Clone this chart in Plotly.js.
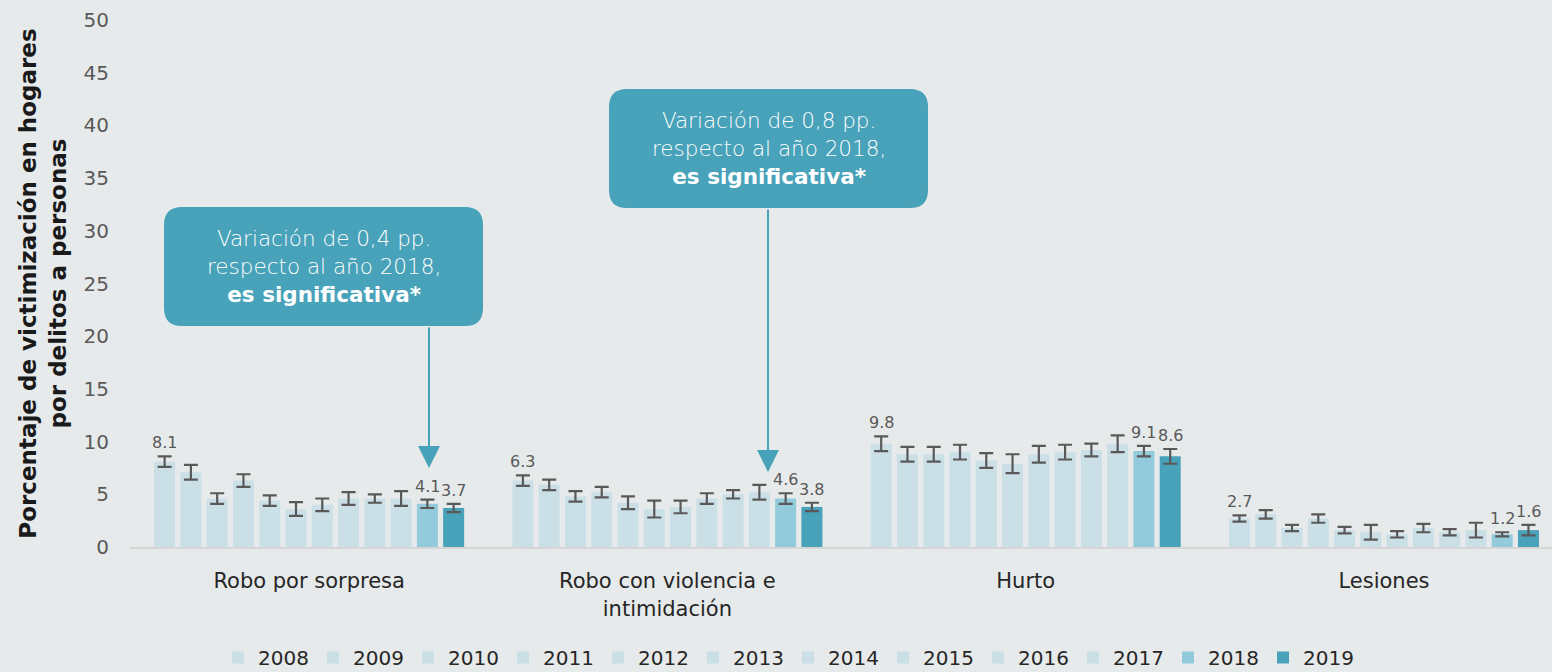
<!DOCTYPE html>
<html>
<head>
<meta charset="utf-8">
<script src="https://cdn.plot.ly/plotly-3.0.1.min.js"></script>
<style>html,body{margin:0;padding:0;background:#e7eaeb;}#chart{width:1552px;height:672px;}</style>
</head>
<body>
<div id="chart"></div>
<script>
const categories = ["Robo por sorpresa", "Robo con violencia e<br>intimidación", "Hurto", "Lesiones"];
const years = ["2008","2009","2010","2011","2012","2013","2014","2015","2016","2017","2018","2019"];
// values per year: [Robo por sorpresa, Robo con violencia, Hurto, Lesiones]
const v2008 = [8.1, 6.3, 9.8, 2.7];
const v2009 = [7.1, 5.9, 8.8, 3.1];
const v2010 = [4.6, 4.8, 8.8, 1.8];
const v2011 = [6.3, 5.2, 9.0, 2.7];
const v2012 = [4.4, 4.2, 8.2, 1.6];
const v2013 = [3.6, 3.6, 7.9, 1.4];
const v2014 = [4.0, 3.8, 8.8, 1.2];
const v2015 = [4.6, 4.6, 9.0, 1.8];
const v2016 = [4.6, 5.0, 9.2, 1.4];
const v2017 = [4.6, 5.2, 9.8, 1.6];
const v2018 = [4.1, 4.6, 9.1, 1.2];
const v2019 = [3.7, 3.8, 8.6, 1.6];
// error bar half-widths
const e2008 = [0.5, 0.5, 0.7, 0.3];
const e2009 = [0.7, 0.5, 0.7, 0.4];
const e2010 = [0.5, 0.5, 0.7, 0.3];
const e2011 = [0.6, 0.5, 0.7, 0.4];
const e2012 = [0.5, 0.6, 0.7, 0.3];
const e2013 = [0.65, 0.8, 0.9, 0.7];
const e2014 = [0.6, 0.6, 0.8, 0.3];
const e2015 = [0.6, 0.5, 0.7, 0.4];
const e2016 = [0.4, 0.4, 0.6, 0.3];
const e2017 = [0.7, 0.7, 0.8, 0.7];
const e2018 = [0.4, 0.5, 0.5, 0.2];
const e2019 = [0.4, 0.4, 0.7, 0.5];
const labelledYears = ["2008", "2018", "2019"];

const values = [v2008,v2009,v2010,v2011,v2012,v2013,v2014,v2015,v2016,v2017,v2018,v2019];
const errors = [e2008,e2009,e2010,e2011,e2012,e2013,e2014,e2015,e2016,e2017,e2018,e2019];
const colors = years.map(y => y === "2019" ? "#48a2b9" : (y === "2018" ? "#93cbdc" : "#cbdfe7"));

const FONT = "'DejaVu Sans', sans-serif";
const bargap = 0.12;
const nTr = years.length;

const traces = years.map((y, j) => ({
  type: "bar",
  name: y,
  x: categories,
  y: values[j],
  marker: {color: colors[j]},
  error_y: {type: "data", array: errors[j], visible: true, color: "#595959", thickness: 2.2, width: 7},
  hoverinfo: "x+y+name"
}));

// value labels above error bars for selected years
const annotations = [];
years.forEach((y, j) => {
  if (!labelledYears.includes(y)) return;
  const off = -(1 - bargap) / 2 + (j + 0.5) * (1 - bargap) / nTr;
  values[j].forEach((v, i) => {
    annotations.push({
      x: i + off, y: v + errors[j][i], xref: "x", yref: "y",
      text: v.toFixed(1), showarrow: false, yanchor: "bottom", yshift: 2,
      font: {family: FONT, size: 16, color: "#595959"}
    });
  });
});

// callouts
const PL = 130, PW = 1422, PT = 20, PH = 527;
const px = p => (p - PL) / PW;
const py = p => (PT + PH - p) / PH;
function roundRect(x0, y0, x1, y1, r) {
  const X0 = px(x0), X1 = px(x1), Y0 = py(y0), Y1 = py(y1);
  const rx = r / PW, ry = r / PH;
  return `M${X0+rx},${Y0} L${X1-rx},${Y0} Q${X1},${Y0} ${X1},${Y0-ry} L${X1},${Y1+ry} Q${X1},${Y1} ${X1-rx},${Y1} L${X0+rx},${Y1} Q${X0},${Y1} ${X0},${Y1+ry} L${X0},${Y0-ry} Q${X0},${Y0} ${X0+rx},${Y0} Z`;
}
const callouts = [
  {box: [164, 207, 483, 326], arrowX: 429, tipY: 468, text: "Variación de 0,4 pp.<br>respecto al año 2018,<br><b>es significativa*</b>"},
  {box: [609, 89, 928, 208], arrowX: 768, tipY: 472, text: "Variación de 0,8 pp.<br>respecto al año 2018,<br><b>es significativa*</b>"}
];
const shapes = [];
callouts.forEach(c => {
  const [x0, y0, x1, y1] = c.box;
  shapes.push({type: "path", xref: "paper", yref: "paper", path: roundRect(x0, y0, x1, y1, 18),
    fillcolor: "#48a2b9", line: {width: 0}, layer: "above"});
  annotations.push({xref: "paper", yref: "paper", x: px((x0 + x1) / 2), y: py((y0 + y1) / 2),
    text: c.text, showarrow: false, xanchor: "center", yanchor: "middle", align: "center",
    font: {family: FONT, size: 21.5, color: "#ffffff", weight: 300}});
  annotations.push({xref: "paper", yref: "paper", x: px(c.arrowX), y: py(c.tipY), text: "",
    showarrow: true, axref: "pixel", ayref: "pixel", ax: 0, ay: -(c.tipY - y1),
    arrowhead: 2, arrowsize: 2.2, arrowwidth: 2, arrowcolor: "#48a2b9", standoff: 0, startstandoff: 0});
});

const layout = {
  width: 1552, height: 672,
  paper_bgcolor: "#e7eaeb", plot_bgcolor: "#e7eaeb",
  margin: {l: 130, r: 0, t: 20, b: 125},
  barmode: "group", bargap: bargap, bargroupgap: 0.2,
  font: {family: FONT},
  xaxis: {
    type: "category", range: [-0.5, 3.469], showgrid: false, zeroline: false,
    showline: true, linecolor: "#d6d6d6", linewidth: 2,
    ticks: "", ticklabelstandoff: 14,
    tickfont: {family: FONT, size: 21, color: "#262626"}
  },
  yaxis: {
    range: [0, 50], dtick: 5, showgrid: false, zeroline: false, showline: false,
    ticks: "", ticklabelstandoff: 20,
    tickfont: {family: FONT, size: 20, color: "#595959"},
    title: {text: "<b>Porcentaje de victimización en hogares<br>por delitos a personas</b>",
      font: {family: FONT, size: 23, color: "#1a1a1a"}, standoff: 10}
  },
  legend: {
    orientation: "h", x: px(788), xanchor: "center", yref: "container", y: 1 - 638 / 672, yanchor: "top",
    font: {family: FONT, size: 20, color: "#262626"}, entrywidth: 50, entrywidthmode: "pixels",
    itemclick: false, bgcolor: "rgba(0,0,0,0)", traceorder: "normal", itemwidth: 30
  },
  showlegend: true,
  annotations: annotations,
  shapes: shapes
};

Plotly.newPlot("chart", traces, layout, {displayModeBar: false, staticPlot: true});
</script>
</body>
</html>
